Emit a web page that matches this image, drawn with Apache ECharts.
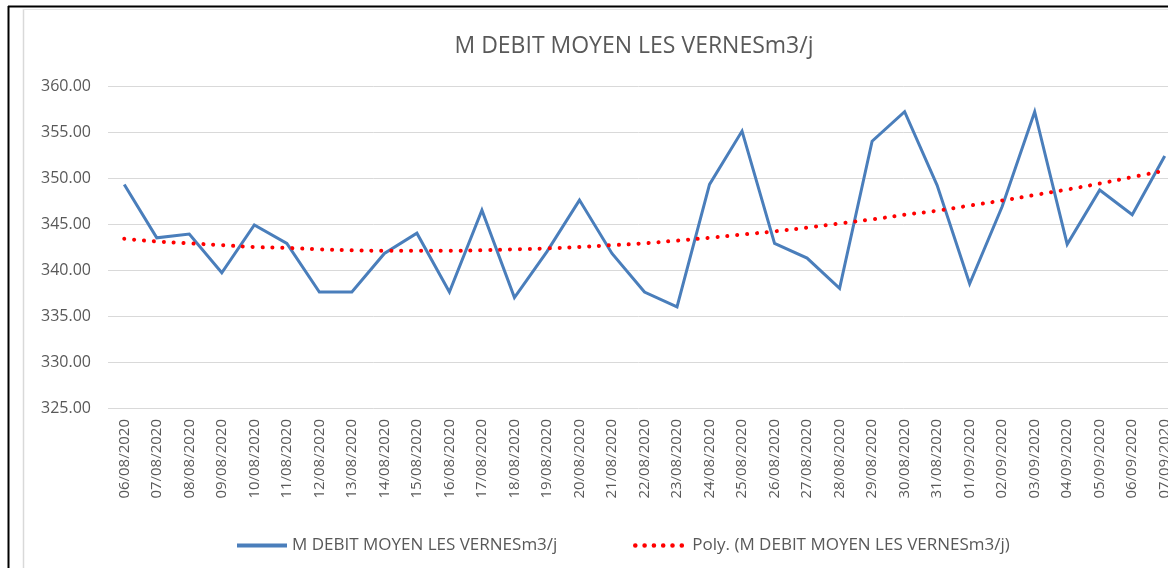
<!DOCTYPE html>
<html>
<head>
<meta charset="utf-8">
<script src="https://cdn.jsdelivr.net/npm/echarts@6/dist/echarts.min.js"></script>
<style>
html,body{margin:0;padding:0;background:#fff;}
#c{width:1168px;height:568px;}
</style>
</head>
<body>
<div id="c"></div>
<script>
const titleText = 'M DEBIT MOYEN LES VERNESm3/j';
const seriesName = 'M DEBIT MOYEN LES VERNESm3/j';
const trendName = 'Poly. (M DEBIT MOYEN LES VERNESm3/j)';
const categories = ['06/08/2020','07/08/2020','08/08/2020','09/08/2020','10/08/2020','11/08/2020','12/08/2020','13/08/2020','14/08/2020','15/08/2020','16/08/2020','17/08/2020','18/08/2020','19/08/2020','20/08/2020','21/08/2020','22/08/2020','23/08/2020','24/08/2020','25/08/2020','26/08/2020','27/08/2020','28/08/2020','29/08/2020','30/08/2020','31/08/2020','01/09/2020','02/09/2020','03/09/2020','04/09/2020','05/09/2020','06/09/2020','07/09/2020'];
const debit = [349.3,343.5,343.9,339.7,344.9,342.9,337.6,337.6,341.8,344.0,337.6,346.5,337.0,342.0,347.6,341.8,337.6,336.0,349.3,355.1,342.9,341.3,338.0,354.0,357.2,349.2,338.5,346.9,357.2,342.8,348.7,346.0,352.4];
const trend = [343.4,343.1,342.9,342.7,342.5,342.4,342.25,342.15,342.1,342.1,342.1,342.15,342.25,342.35,342.5,342.7,342.9,343.2,343.5,343.85,344.2,344.6,345.05,345.5,346.0,346.45,347.0,347.55,348.15,348.75,349.4,350.1,350.8];
const yTicks = {min:325, max:360, interval:5};

const font = '"Open Sans", "Noto Sans", sans-serif';
const legendText = {fontFamily:font,fontSize:17,color:'#595959'};
const chart = echarts.init(document.getElementById('c'), null, {renderer:'canvas'});
chart.setOption({
  backgroundColor:'#fff',
  animation:false,
  title:{text:titleText,left:629,top:30,textAlign:'center',
    textStyle:{fontFamily:font,fontSize:23,fontWeight:'normal',color:'#595959'}},
  graphic:[
    {type:'line',shape:{x1:8,y1:6.5,x2:1168,y2:6.5},style:{stroke:'#000',lineWidth:2},z:100},
    {type:'line',shape:{x1:8.5,y1:6,x2:8.5,y2:568},style:{stroke:'#000',lineWidth:2},z:100},
    {type:'line',shape:{x1:23.5,y1:9,x2:23.5,y2:568},style:{stroke:'#d9d9d9',lineWidth:1.5},z:100},
    {type:'line',shape:{x1:23,y1:9.5,x2:1168,y2:9.5},style:{stroke:'#e6e6e6',lineWidth:1},z:100}
  ],
  grid:{left:108,width:1073,top:86,height:322,containLabel:false,outerBoundsMode:'none'},
  legend:[
    {left:230,top:532,itemWidth:50,itemHeight:12,itemStyle:{opacity:0},textStyle:legendText,
      data:[{name:seriesName,lineStyle:{width:4}}]},
    {left:628,top:532,itemWidth:52,itemHeight:12,itemStyle:{opacity:0},textStyle:legendText,
      data:[{name:trendName,lineStyle:{width:4.5,type:[0.1,9.2],cap:'round'}}]}
  ],
  xAxis:{type:'category',data:categories,boundaryGap:true,
    axisLine:{show:false},axisTick:{show:false},
    axisLabel:{rotate:90,interval:0,margin:11,fontFamily:font,fontSize:15,color:'#595959'}},
  yAxis:{type:'value',min:yTicks.min,max:yTicks.max,interval:yTicks.interval,
    axisLine:{show:false},axisTick:{show:false},
    splitLine:{lineStyle:{color:'#d9d9d9',width:1}},
    axisLabel:{margin:17,fontFamily:font,fontSize:16,color:'#595959',formatter:v=>v.toFixed(2)}},
  series:[
    {name:seriesName,type:'line',data:debit,symbol:'none',
      itemStyle:{color:'#4a7ebb'},
      lineStyle:{color:'#4a7ebb',width:3,join:'miter'},z:2},
    {name:trendName,type:'line',data:trend,symbol:'none',smooth:true,
      itemStyle:{color:'#ff0000'},
      lineStyle:{color:'#ff0000',width:4,type:[0.1,9.8],cap:'round'},z:3}
  ]
});
</script>
</body>
</html>
